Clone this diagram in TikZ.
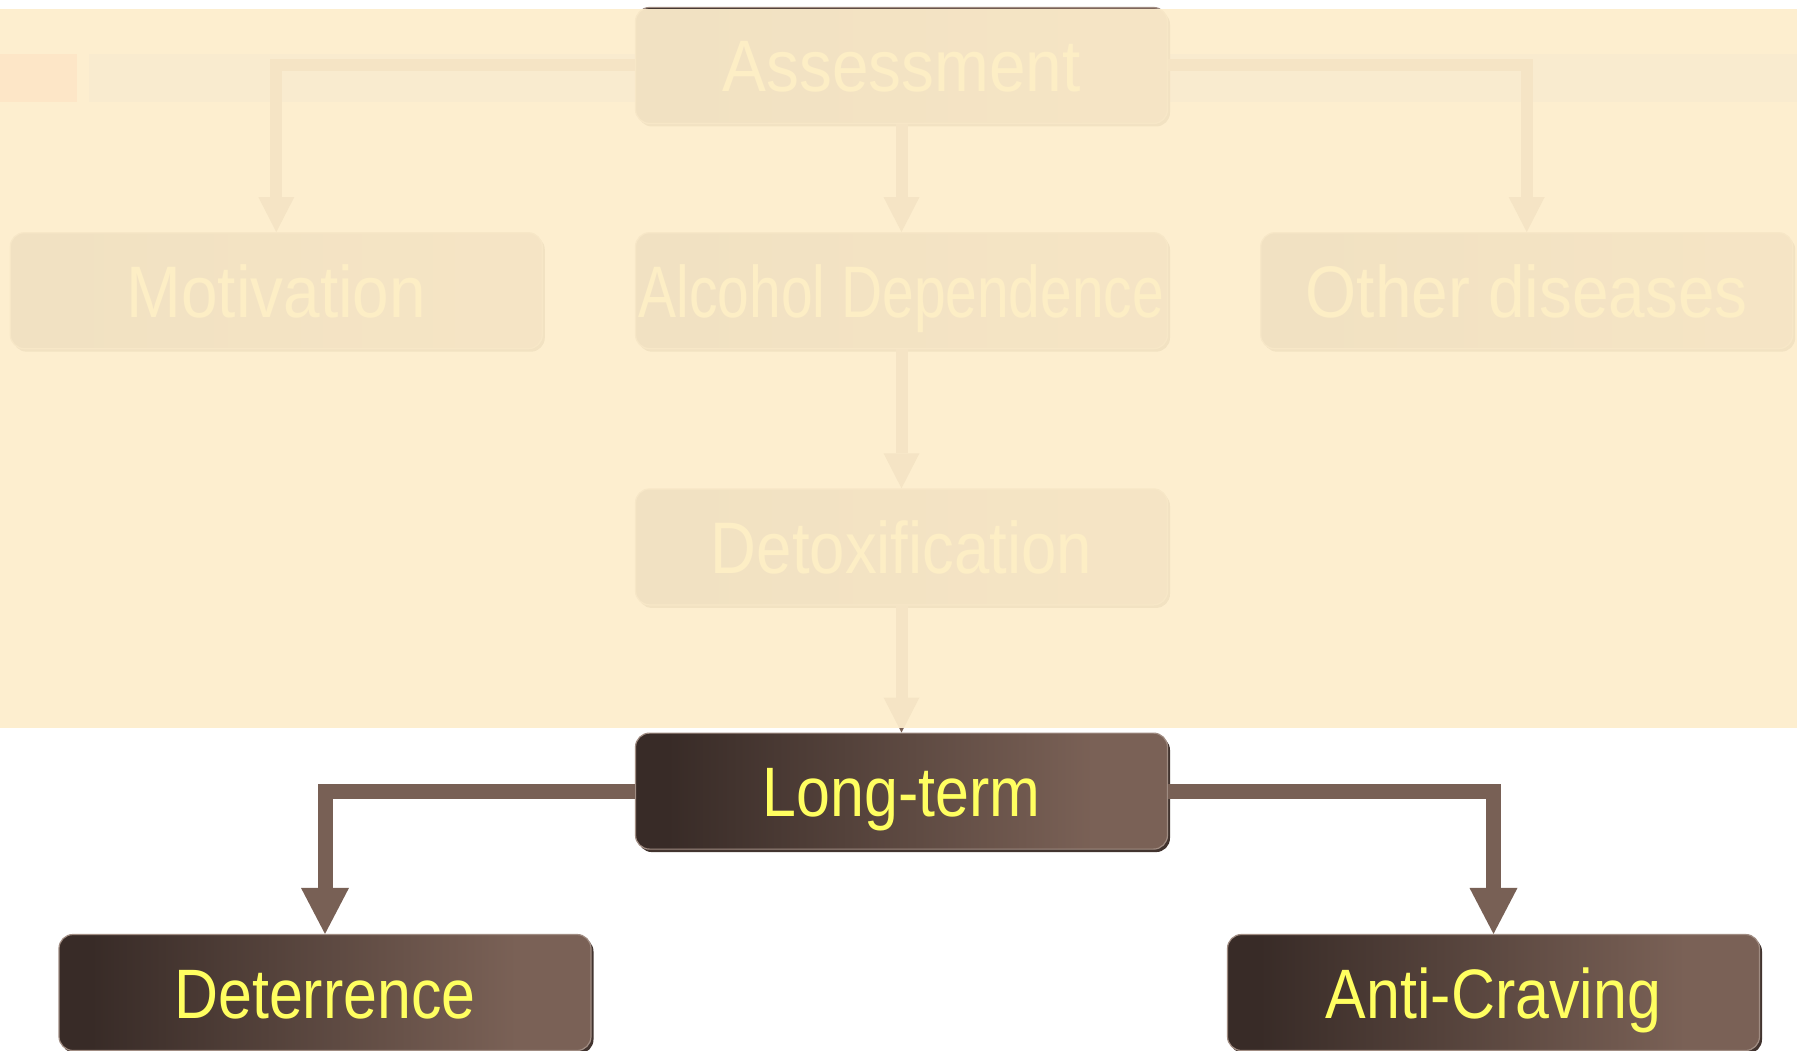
\documentclass[tikz,border=0pt]{standalone}
\usepackage{fontspec}
\usepackage{xcolor}
\usetikzlibrary{positioning,arrows.meta,shadows}
\newfontfamily\boxfont[FakeStretch=0.87]{Liberation Sans}
\newfontfamily\veilfont[FakeStretch=0.9]{Liberation Sans}
\newfontfamily\tightfont[FakeStretch=0.78]{Liberation Sans}
\definecolor{boxdark}{RGB}{56,43,39}
\definecolor{boxlight}{RGB}{122,97,86}
\definecolor{edgegrey}{RGB}{160,140,130}
\definecolor{shadowbrown}{RGB}{66,52,47}
\definecolor{linkbrown}{RGB}{120,96,85}
\definecolor{labelyellow}{RGB}{255,255,96}
\definecolor{veil}{RGB}{253,237,204}
\definecolor{bandpink}{RGB}{255,125,135}
\definecolor{bandblue}{RGB}{190,205,255}
\pgfdeclarehorizontalshading{boxgrad}{100bp}{color(0bp)=(boxdark); color(28bp)=(boxdark); color(68bp)=(boxlight); color(100bp)=(boxlight)}

\begin{document}
\begin{tikzpicture}[x=1pt, y=1pt,
    stage/.style={rectangle, rounded corners=14pt, minimum width=532pt, minimum height=116pt, inner sep=0pt,
        shading=boxgrad, draw=edgegrey, line width=1.2pt,
        drop shadow={shadow xshift=2.5pt, shadow yshift=-3pt, fill=shadowbrown, opacity=1},
        text=labelyellow, font=\boxfont\fontsize{70pt}{80pt}\selectfont, text height=51pt, text depth=0pt},
    veiled/.style={font=\veilfont\fontsize{73pt}{84pt}\selectfont, text height=53pt},
    faintlink/.style={draw=linkbrown, line width=12pt, line join=miter, -{Triangle[width=36pt, length=35pt, line width=0pt]}},
    boldlink/.style={draw=linkbrown, line width=15pt, line join=miter, -{Triangle[width=48pt, length=46pt, line width=0pt]}}]
    \useasboundingbox (0,0) rectangle (1797,-1051);

    % Title band behind the veil
    \fill[bandpink] (0,-54) rectangle (77,-102);
    \fill[bandblue] (89,-54) rectangle (1797,-102);

    % Earlier steps (faded)
    \node[stage, veiled] (assess) at (901.5,-65.5) {Assessment};
    \node[stage, veiled, below=108pt of assess, font=\tightfont\fontsize{73pt}{84pt}\selectfont] (alcohol) {Alcohol Dependence};
    \node[stage, veiled, left=92pt of alcohol] (motiv) {Motivation};
    \node[stage, veiled, right=92pt of alcohol] (other) {Other diseases};
    \node[stage, veiled, below=139pt of alcohol, font=\boxfont\fontsize{73pt}{84pt}\selectfont] (detox) {Detoxification};
    \node[stage, below=127pt of detox] (longterm) {Long-term};

    \draw[faintlink] (assess.west) -| (motiv.north);
    \draw[faintlink] (assess.east) -| (other.north);
    \draw[faintlink] (assess.south) -- (alcohol.north);
    \draw[faintlink] (alcohol.south) -- (detox.north);
    \draw[faintlink] (detox.south) -- (longterm.north);

    % Veil over the earlier steps
    \fill[veil, opacity=0.94] (0,-9) rectangle (1797,-728);

    % Long-term treatment
    \node[stage] (deter) at (325,-992.5) {Deterrence};
    \node[stage] (anti) at (1493.5,-992.5) {Anti-Craving};

    \draw[boldlink] (longterm.west) -| (deter.north);
    \draw[boldlink] (longterm.east) -| (anti.north);
\end{tikzpicture}
\end{document}
